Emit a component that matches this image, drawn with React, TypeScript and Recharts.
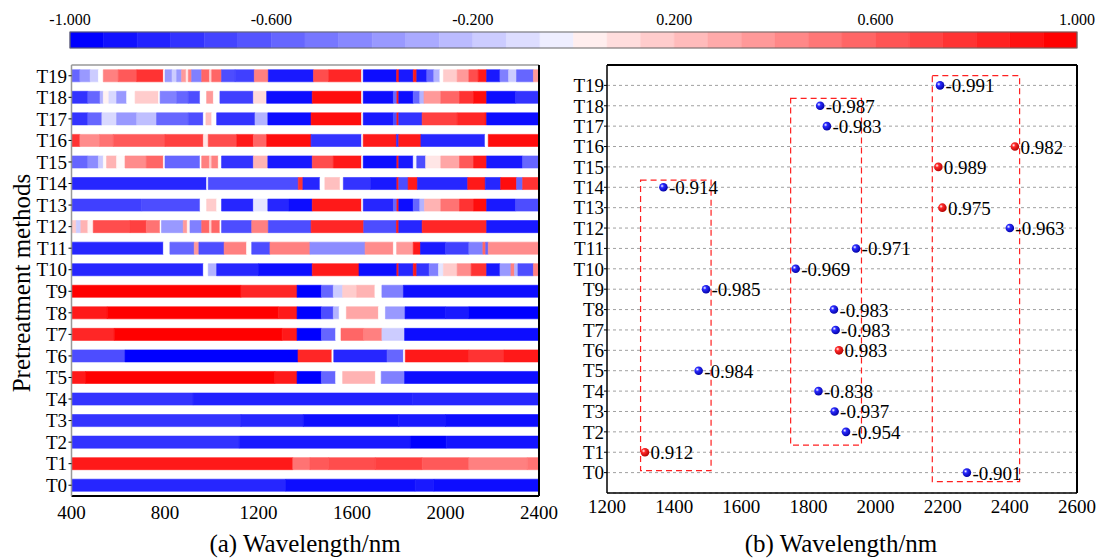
import React from 'react';
import {
  ComposedChart,
  Scatter,
  XAxis,
  YAxis,
  ReferenceArea,
  ReferenceLine,
  CartesianGrid,
} from 'recharts';

const FONT = '"Liberation Serif", "Times New Roman", serif';

// ---------- tick labels ----------
const rowLabels = ['T0', 'T1', 'T2', 'T3', 'T4', 'T5', 'T6', 'T7', 'T8', 'T9', 'T10', 'T11', 'T12', 'T13', 'T14', 'T15', 'T16', 'T17', 'T18', 'T19'];
const rowTicks = [0, 1, 2, 3, 4, 5, 6, 7, 8, 9, 10, 11, 12, 13, 14, 15, 16, 17, 18, 19];
const heatXTicks = [400, 800, 1200, 1600, 2000, 2400];
const peakXTicks = [1200, 1400, 1600, 1800, 2000, 2200, 2400, 2600];
const colorbarTicks = [-1, -0.6, -0.2, 0.2, 0.6, 1];
const colorbarLevels = 30;

// ---------- heatmap rows: [start wavelength, correlation] (segment runs to next start / 2400) ----------
const heatT0 = [[400, -0.85], [1316, -0.95], [1870, -0.9], [1950, -0.95]];
const heatT1 = [[400, 0.9], [1347, 0.55], [1420, 0.65], [1500, 0.7], [1700, 0.75], [1900, 0.65], [2100, 0.5], [2350, 0.55]];
const heatT2 = [[400, -0.8], [1118, -0.9], [1850, -1], [2003, -0.92]];
const heatT3 = [[400, -0.8], [1125, -0.85], [1392, -0.95], [1800, -0.9], [2000, -0.95]];
const heatT4 = [[400, -0.8], [920, -0.87], [1860, -0.85]];
const heatT5 = [[400, 0.9], [460, 1], [1270, 0.9], [1365, -1], [1469, -0.6], [1530, 0], [1560, 0.3], [1700, 0], [1725, -0.5], [1825, -0.95]];
const heatT6 = [[400, -0.7], [629, -1], [1369, 0.85], [1514, 0], [1522, -0.85], [1750, -0.6], [1820, 0], [1828, 0.9], [2100, 0.8], [2250, 0.9]];
const heatT7 = [[400, 0.85], [583, 1], [1301, 0.9], [1365, -1], [1469, -0.6], [1530, 0], [1553, 0.6], [1650, 0.5], [1728, -0.2], [1825, -0.95]];
const heatT8 = [[400, 0.9], [553, 1], [1285, 0.9], [1365, -1], [1469, -0.7], [1520, -0.3], [1545, 0], [1576, 0.35], [1713, 0], [1743, -0.4], [1827, -0.95], [2000, -0.9], [2100, -1]];
const heatT9 = [[400, 1], [1125, 0.85], [1365, -1], [1469, -0.6], [1520, -0.2], [1560, 0.2], [1620, 0.3], [1698, 0], [1728, -0.5], [1820, -0.95]];
const heatT10 = [[400, -0.85], [964, 0], [985, -0.3], [1021, -0.85], [1200, -0.95], [1430, 0.9], [1630, -0.95], [1792, 0.9], [1800, -0.85], [1862, 0.9], [1877, -0.8], [1930, -0.5], [1970, -0.1], [1991, 0.2], [2050, 0.45], [2110, 0.8], [2176, -0.9], [2233, -0.4], [2280, 0.5], [2295, -0.3], [2310, -0.7], [2376, 0.5]];
const heatT11 = [[400, -0.85], [793, 0], [821, -0.6], [925, 0.4], [945, -0.7], [1053, 0.5], [1149, 0], [1171, -0.7], [1249, 0.5], [1420, -0.45], [1656, 0.45], [1777, 0], [1791, 0.4], [1862, 0.9], [1893, -0.9], [2000, -0.75], [2100, -0.5], [2160, 0.6], [2172, -0.6], [2183, 0.45]];
const heatT12 = [[400, 0.2], [420, -0.2], [440, 0.3], [470, 0.05], [493, 0.7], [650, 0.75], [720, 0.55], [779, 0], [785, -0.4], [878, 0.4], [895, 0.05], [907, -0.5], [957, 0.6], [990, 0.2], [1000, 0.6], [1035, 0], [1042, -0.7], [1171, 0.5], [1242, -0.7], [1425, 0.85], [1650, -0.7], [1790, 0.9], [1800, -0.85], [1900, 0.85], [2176, -0.9]];
const heatT13 = [[400, -0.75], [700, -0.7], [950, 0], [978, 0.2], [1021, 0], [1042, -0.85], [1178, -0.1], [1240, -0.85], [1330, -0.95], [1430, 0.9], [1641, 0], [1648, -0.85], [1777, -0.6], [1792, 0.9], [1800, -0.95], [1862, -0.6], [1890, -0.3], [1910, 0.3], [1980, 0.55], [2060, 0.8], [2120, 0.95], [2176, -0.9], [2300, -0.7]];
const heatT14 = [[400, -0.85], [978, 0], [985, -0.7], [1370, 0.8], [1390, -0.85], [1463, 0], [1484, 0.25], [1549, 0], [1563, -0.8], [1680, -0.9], [1792, 0.9], [1800, -0.7], [1840, 0.9], [1880, -0.85], [2095, 0.9], [2170, -0.85], [2236, 0.95], [2304, -0.6], [2330, 0.8]];
const heatT15 = [[400, -0.6], [470, -0.45], [515, -0.2], [536, 0.02], [550, 0.3], [593, 0.02], [629, 0.45], [720, 0.6], [793, 0], [800, -0.6], [950, 0], [957, 0.5], [990, 0.2], [1000, 0.5], [1028, 0], [1042, -0.8], [1178, 0.3], [1240, -0.9], [1430, 0.7], [1520, 0.9], [1641, 0], [1648, -0.95], [1792, 0.9], [1800, -0.9], [1862, -0.05], [1877, -0.7], [1915, 0.1], [1980, 0.35], [2060, 0.65], [2120, 0.9], [2176, -0.9], [2330, -0.6]];
const heatT16 = [[400, 0.8], [436, 0.45], [520, 0.55], [579, 0.65], [800, 0.75], [964, 0.1], [985, 0.7], [1107, 0.9], [1178, 0.6], [1235, 0.95], [1425, -0.8], [1641, 0], [1648, 0.9], [1790, -0.8], [1800, 0.9], [1895, -0.85], [2169, 0], [2183, 0.95]];
const heatT17 = [[400, -0.8], [470, -0.6], [530, -0.15], [593, -0.4], [679, -0.25], [764, -0.6], [900, -0.7], [964, 0], [975, 0.25], [1000, 0], [1021, -0.8], [1185, -0.3], [1240, -0.95], [1425, 0.95], [1641, 0], [1648, -0.9], [1777, -0.7], [1792, 0.9], [1800, -0.8], [1900, 0.75], [2050, 0.85], [2169, 0.9], [2176, -0.95]];
const heatT18 = [[400, -0.8], [470, -0.6], [522, -0.3], [536, 0.05], [560, -0.15], [593, -0.4], [636, 0], [672, 0.2], [772, 0], [779, -0.5], [850, -0.6], [900, -0.7], [950, 0], [978, 0.4], [1007, 0], [1035, -0.75], [1178, 0.15], [1235, -0.95], [1430, 0.95], [1641, 0], [1648, -0.95], [1777, -0.6], [1792, 0.9], [1800, -0.95], [1862, -0.6], [1890, -0.3], [1908, 0.4], [1980, 0.6], [2060, 0.8], [2120, 0.95], [2176, -0.95], [2300, -0.8]];
const heatT19 = [[400, -0.6], [436, -0.4], [480, -0.2], [515, 0], [536, 0.5], [600, 0.65], [679, 0.8], [793, 0], [800, -0.4], [830, -0.2], [850, -0.4], [871, 0.4], [890, 0.1], [900, 0.5], [914, -0.5], [957, 0.6], [990, 0.2], [1000, 0.6], [1042, -0.7], [1100, -0.75], [1182, 0.5], [1242, -0.9], [1435, 0.7], [1500, 0.85], [1641, 0], [1648, -0.95], [1791, 0.9], [1801, -0.9], [1862, 0.9], [1877, -0.9], [1920, -0.6], [1950, -0.3], [1976, 0], [1991, 0.2], [2050, 0.4], [2100, 0.7], [2140, 0.9], [2176, -0.9], [2233, -0.5], [2270, -0.2], [2304, -0.6], [2376, 0.4]];

const heatRows = [heatT0, heatT1, heatT2, heatT3, heatT4, heatT5, heatT6, heatT7, heatT8, heatT9, heatT10, heatT11, heatT12, heatT13, heatT14, heatT15, heatT16, heatT17, heatT18, heatT19];

// ---------- panel (b): optimal wavelength and correlation per pretreatment ----------
const peakWavelength = [2272, 1313, 1912, 1878, 1830, 1473, 1891, 1881, 1876, 1495, 1762, 1942, 2400, 2199, 1368, 2187, 2415, 1855, 1835, 2192];
const peakCorrelation = [-0.901, 0.912, -0.954, -0.937, -0.838, -0.984, 0.983, -0.983, -0.983, -0.985, -0.969, -0.971, -0.963, 0.975, -0.914, 0.989, 0.982, -0.983, -0.987, -0.991];

// dashed boxes: [x1, x2, y1, y2] in wavelength / row units
const boxA = [1300, 1510, 0.1, 14.35];
const boxB = [1747, 1958, 1.35, 18.36];
const boxC = [2169, 2429, -0.44, 19.48];
const boxes = [boxA, boxB, boxC];

// ---------- helpers ----------
function corrColor(v: number): string {
  const c = Math.max(-1, Math.min(1, v));
  if (c < 0) {
    const k = Math.round(255 * (1 + c));
    return `rgb(${k},${k},255)`;
  }
  const k = Math.round(255 * (1 - c));
  return `rgb(255,${k},${k})`;
}

const heatSegments: { row: number; x1: number; x2: number; v: number }[] = [];
heatRows.forEach((row, r) => {
  row.forEach((seg, k) => {
    const x2 = k + 1 < row.length ? row[k + 1][0] : 2400;
    heatSegments.push({ row: r, x1: seg[0], x2, v: seg[1] });
  });
});

const colorbarCells: { x1: number; x2: number; v: number }[] = [];
for (let i = 0; i < colorbarLevels; i++) {
  const step = 2 / colorbarLevels;
  const x1 = -1 + i * step;
  const half = colorbarLevels / 2;
  const v = i < half ? -1 + i / half : (i - half + 1) / half;
  colorbarCells.push({ x1, x2: x1 + step, v });
}

const peakData = peakWavelength.map((w, i) => ({ x: w, y: i, r: peakCorrelation[i] }));

const tickStyle = { fontFamily: FONT, fontSize: 19, fill: '#000' };

const Ball = (props: any) => {
  const { cx, cy, payload } = props;
  if (cx == null || cy == null) return null;
  const pos = payload.r > 0;
  const id = pos ? 'ballRed' : 'ballBlue';
  return (
    <g>
      <defs>
        <radialGradient id={id} cx="35%" cy="35%" r="70%">
          <stop offset="0%" stopColor="#ffffff" />
          <stop offset="30%" stopColor={pos ? '#ff2a2a' : '#2a2aff'} />
          <stop offset="100%" stopColor={pos ? '#b00000' : '#0000a0'} />
        </radialGradient>
      </defs>
      <circle cx={cx} cy={cy} r={4.3} fill={`url(#${id})`} />
      <text x={cx + 5.5} y={cy + 7} fontFamily={FONT} fontSize={19} fill="#000">
        {payload.r.toFixed(3)}
      </text>
    </g>
  );
};

function Colorbar() {
  return (
    <ComposedChart width={1097} height={60} margin={{ top: 2, right: 20, bottom: 12, left: 70 }} data={[]}>
      <XAxis
        type="number"
        dataKey="x"
        orientation="top"
        domain={[-1, 1]}
        ticks={colorbarTicks}
        interval={0}
        tickFormatter={(v: number) => v.toFixed(3)}
        tick={{ fontFamily: FONT, fontSize: 16, fill: '#000' }}
        tickLine={false}
        axisLine={false}
        tickSize={4}
        tickMargin={3}
        height={30}
        allowDataOverflow
      />
      <YAxis type="number" domain={[0, 1]} hide allowDataOverflow />
      {colorbarCells.map((c, i) => (
        <ReferenceArea key={i} x1={c.x1} x2={c.x2} y1={0} y2={1} fill={corrColor(c.v)} fillOpacity={1} stroke={corrColor(c.v)} strokeWidth={0.5} ifOverflow="visible" />
      ))}
      <ReferenceArea x1={-1} x2={1} y1={0} y2={1} fill="none" fillOpacity={0} stroke="#666" strokeWidth={1.2} ifOverflow="visible" />
    </ComposedChart>
  );
}

function HeatPanel() {
  return (
    <ComposedChart width={560} height={560} margin={{ top: 65, right: 21, bottom: 34, left: 11.5 }} data={[]}>
      <XAxis
        type="number"
        dataKey="x"
        domain={[400, 2400]}
        ticks={heatXTicks}
        interval={0}
        tick={tickStyle}
        tickLine={false}
        tickSize={5}
        tickMargin={4.5}
        axisLine={{ stroke: '#000', strokeWidth: 2 }}
        height={30}
        allowDataOverflow
      />
      <YAxis
        type="number"
        dataKey="y"
        domain={[-0.5, 19.5]}
        ticks={rowTicks}
        interval={0}
        tickFormatter={(i: number) => rowLabels[i]}
        tick={tickStyle}
        tickLine={{ stroke: '#000' }}
        tickSize={3}
        tickMargin={1.5}
        axisLine={{ stroke: '#999', strokeWidth: 1.5 }}
        width={60}
        allowDataOverflow
      />
      {heatSegments.map((s, i) => (
        <ReferenceArea
          key={i}
          x1={s.x1}
          x2={s.x2}
          y1={s.row - 0.28}
          y2={s.row + 0.28}
          fill={corrColor(s.v)}
          fillOpacity={1}
          stroke={corrColor(s.v)}
          strokeWidth={0.6}
          ifOverflow="hidden"
        />
      ))}
      <ReferenceLine y={19.5} stroke="#999" strokeWidth={1.5} />
      <ReferenceLine x={2400} stroke="#000" strokeWidth={2} />
    </ComposedChart>
  );
}

function PeakPanel() {
  return (
    <ComposedChart width={557} height={560} margin={{ top: 65, right: 20, bottom: 37, left: 7 }} data={peakData}>
      <CartesianGrid vertical={false} stroke="#a0a0a0" strokeDasharray="3 3" />
      <XAxis
        type="number"
        dataKey="x"
        domain={[1200, 2600]}
        ticks={peakXTicks}
        interval={0}
        tick={tickStyle}
        tickLine={false}
        tickSize={4}
        tickMargin={3}
        axisLine={{ stroke: '#000', strokeWidth: 1.5 }}
        height={30}
        allowDataOverflow
      />
      <YAxis
        type="number"
        dataKey="y"
        domain={[-1, 20]}
        ticks={rowTicks}
        interval={0}
        tickFormatter={(i: number) => rowLabels[i]}
        tick={tickStyle}
        tickLine={{ stroke: '#000' }}
        tickSize={3}
        tickMargin={0}
        axisLine={{ stroke: '#000', strokeWidth: 1.5 }}
        width={60}
        allowDataOverflow
      />
      <ReferenceLine y={20} stroke="#000" strokeWidth={2} />
      <ReferenceLine x={2600} stroke="#000" strokeWidth={2} />
      {boxes.map((b, i) => (
        <ReferenceArea
          key={i}
          x1={b[0]}
          x2={b[1]}
          y1={b[2]}
          y2={b[3]}
          fill="none"
          fillOpacity={0}
          stroke="#ff2020"
          strokeWidth={1.2}
          strokeDasharray="6 4"
          ifOverflow="visible"
        />
      ))}
      <Scatter data={peakData} dataKey="y" shape={Ball} isAnimationActive={false} />
    </ComposedChart>
  );
}

export default function App() {
  return (
    <div style={{ position: 'absolute', left: 0, top: 0, width: 1097, height: 560, background: '#fff', overflow: 'hidden' }}>
      <div style={{ position: 'absolute', left: 0, top: 0 }}>
        <HeatPanel />
      </div>
      <div style={{ position: 'absolute', left: 540, top: 0 }}>
        <PeakPanel />
      </div>
      <div style={{ position: 'absolute', left: 0, top: 0 }}>
        <Colorbar />
      </div>
      <svg width={1097} height={560} style={{ position: 'absolute', left: 0, top: 0, pointerEvents: 'none' }}>
        <text x={22} y={283} transform="rotate(-90 22 283)" dy="0.33em" textAnchor="middle" fontFamily={FONT} fontSize={25} fill="#000">
          Pretreatment methods
        </text>
        <text x={305} y={552} textAnchor="middle" fontFamily={FONT} fontSize={25} fill="#000">
          (a) Wavelength/nm
        </text>
        <text x={841} y={552} textAnchor="middle" fontFamily={FONT} fontSize={25} fill="#000">
          (b) Wavelength/nm
        </text>
      </svg>
    </div>
  );
}
